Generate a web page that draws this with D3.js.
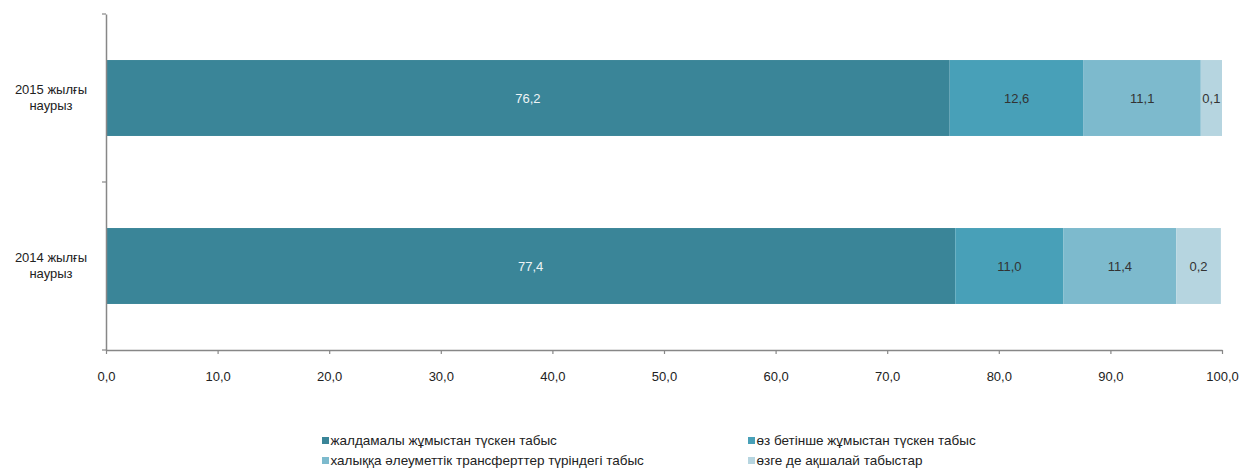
<!DOCTYPE html>
<html>
<head>
<meta charset="utf-8">
<title>Табыстар құрылымы</title>
<script src="https://d3js.org/d3.v7.min.js"></script>
<style>
  body { margin: 0; background: #fff; }
  svg text { font-family: "Liberation Sans", Arial, sans-serif; }
</style>
</head>
<body>
<div id="chart"></div>
<script>
// категориялар (жоғарыдан төменге)
const categories = ["2015 жылғы наурыз", "2014 жылғы наурыз"];
const series = [
  "жалдамалы жұмыстан түскен табыс",
  "өз бетінше жұмыстан түскен табыс",
  "халыққа әлеуметтік трансферттер түріндегі табыс",
  "өзге де ақшалай табыстар"
];
// сегмент ұзындықтары (суреттен оқылған)
const values2015 = [75.6, 12.0, 10.5, 1.9];
const values2014 = [76.1, 9.7, 10.1, 4.0];
// бар ішіндегі жазулар
const labels2015 = ["76,2", "12,6", "11,1", "0,1"];
const labels2014 = ["77,4", "11,0", "11,4", "0,2"];
const xTicks = [0, 10, 20, 30, 40, 50, 60, 70, 80, 90, 100];
const colors = ["#3a8598", "#48a0b8", "#7dbacd", "#b6d5e0"];

const valuesByCat = { "2015 жылғы наурыз": values2015, "2014 жылғы наурыз": values2014 };
const labelsByCat = { "2015 жылғы наурыз": labels2015, "2014 жылғы наурыз": labels2014 };

const width = 1239, height = 468;
const margin = { top: 14, left: 106, right: 17, bottom: 118 };

const svg = d3.select("#chart").append("svg")
  .attr("width", width)
  .attr("height", height);

const x = d3.scaleLinear().domain([0, 100]).range([margin.left, width - margin.right]);
const y = d3.scaleBand()
  .domain(categories)
  .range([margin.top, height - margin.bottom])
  .paddingInner(0.548)
  .paddingOuter(0.274);

// деректерді жинау
const rows = categories.map(c => {
  const r = { category: c };
  series.forEach((s, i) => r[s] = valuesByCat[c][i]);
  return r;
});
const stacked = d3.stack().keys(series)(rows);

const layers = svg.selectAll(".layer")
  .data(stacked)
  .enter().append("g")
  .attr("class", "layer")
  .attr("fill", (d, i) => colors[i]);

layers.selectAll("rect")
  .data(d => d)
  .enter().append("rect")
  .attr("x", d => x(d[0]))
  .attr("y", d => y(d.data.category))
  .attr("width", d => x(d[1]) - x(d[0]))
  .attr("height", y.bandwidth());

// жазулар
layers.each(function(layer, i) {
  d3.select(this).selectAll("text")
    .data(layer)
    .enter().append("text")
    .attr("x", d => (x(d[0]) + x(d[1])) / 2)
    .attr("y", d => y(d.data.category) + y.bandwidth() / 2)
    .attr("dy", "0.35em")
    .attr("text-anchor", "middle")
    .attr("font-size", 13)
    .attr("fill", i === 0 ? "#eef4f6" : "#333")
    .text(d => labelsByCat[d.data.category][i]);
});

// X осі
const fmt = d3.format(".1f");
const xAxis = svg.append("g")
  .attr("transform", `translate(0,${height - margin.bottom})`)
  .call(d3.axisBottom(x).tickValues(xTicks).tickSize(4).tickSizeOuter(0).tickPadding(18)
    .tickFormat(d => fmt(d).replace(".", ",")));
xAxis.select(".domain").attr("stroke", "#878787").attr("stroke-width", 1.5);
xAxis.selectAll(".tick line").attr("stroke", "#878787").attr("stroke-width", 1.2);
xAxis.selectAll(".tick text").attr("font-size", 13).attr("fill", "#222")
  .style("font-family", "'Liberation Sans', Arial, sans-serif");

// Y осі
const yAxis = svg.append("g")
  .attr("transform", `translate(${margin.left},0)`)
  .call(d3.axisLeft(y).tickSize(0).tickFormat(""));
yAxis.select(".domain").attr("stroke", "#878787").attr("stroke-width", 1.5);

// санат шекаралары
const bounds = [y.range()[0]].concat(categories.map(c => y(c) - y.step() * y.paddingInner() / 2 + y.step()));
bounds[bounds.length - 1] = y.range()[1];
yAxis.selectAll(".sep")
  .data(bounds)
  .enter().append("line")
  .attr("x1", -4).attr("x2", 0)
  .attr("y1", d => d).attr("y2", d => d)
  .attr("stroke", "#878787").attr("stroke-width", 1.2);

const catLabels = svg.append("g").selectAll("text")
  .data(categories)
  .enter().append("text")
  .attr("text-anchor", "middle")
  .attr("font-size", 13)
  .attr("fill", "#222")
  .attr("x", 51)
  .attr("y", d => y(d) + y.bandwidth() / 2);
catLabels.each(function(d) {
  const parts = d.split(" ");
  const t = d3.select(this);
  t.append("tspan").attr("x", 51).attr("dy", "-0.28em").text(parts.slice(0, 2).join(" "));
  t.append("tspan").attr("x", 51).attr("dy", "1.23em").text(parts.slice(2).join(" "));
});

// легенда
const legX = [322, 748];
const legY = [440.5, 460.5];
const legend = svg.append("g").selectAll("g")
  .data(series)
  .enter().append("g")
  .attr("transform", (d, i) => `translate(${legX[i % 2]},${legY[Math.floor(i / 2)]})`);
legend.append("rect")
  .attr("x", 0).attr("y", -3.5)
  .attr("width", 7).attr("height", 7)
  .attr("fill", (d, i) => colors[i]);
legend.append("text")
  .attr("x", 8.5).attr("y", 0)
  .attr("dy", "0.35em")
  .attr("font-size", 13.5)
  .attr("fill", "#222")
  .text(d => d);
</script>
</body>
</html>
